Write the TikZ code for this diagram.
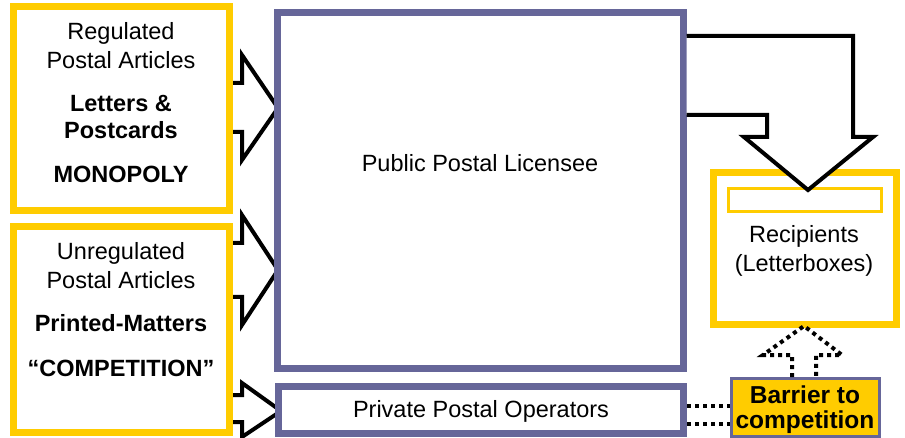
\documentclass[tikz,border=0pt]{standalone}
\usepackage{fontspec}
\setmainfont{Liberation Sans}
\definecolor{gold}{HTML}{FFCC00}
\definecolor{slate}{HTML}{666699}
\begin{document}
\begin{tikzpicture}[x=1pt,y=-1pt,
  goldbox/.style={draw=gold,line width=7pt,fill=white,minimum width=#1},
  slatebox/.style={draw=slate,line width=7pt,fill=white},
  txt/.style={font=\fontsize{23.5}{27}\selectfont,inner sep=0pt},
  btxt/.style={font=\fontsize{23.5}{27}\selectfont\bfseries,inner sep=0pt},
  bartxt/.style={font=\fontsize{24.5}{27}\selectfont\bfseries,inner sep=0pt},
  blockarrow/.style={draw=black,line width=4pt,fill=white,line join=miter,miter limit=10},
  dotline/.style={draw=black,line width=4pt,dash pattern=on 4pt off 4pt}]
\useasboundingbox (0,0) rectangle (905,438);

% block arrows into the licensee and the operators
\path[blockarrow] (229,83) -- (242,83) -- (242,55) -- (278,108) -- (242,160) -- (242,132) -- (229,132);
\path[blockarrow] (229,243) -- (242,243) -- (242,215) -- (278,270) -- (242,325) -- (242,297) -- (229,297);
\path[blockarrow] (229,395) -- (242,395) -- (242,383) -- (281,411) -- (242,437) -- (242,422) -- (229,422);

% sources
\node[goldbox=216.5pt,minimum height=204.5pt] (reg) at (121.25,108.75) {};
\node[goldbox=216.5pt,minimum height=205pt] (unreg) at (121.25,329.5) {};

% carriers
\node[slatebox,minimum width=406pt,minimum height=355pt] (ppl) at (480,190.5) {};
\node[slatebox,minimum width=405pt,minimum height=47pt] (priv) at (481,410) {};

% recipients with letterbox slot
\node[goldbox=183pt,minimum height=152pt] (rec) at (804.5,249) {};
\node[draw=gold,line width=3pt,minimum width=153pt,minimum height=23pt] (slot) at (805,200) {};

% delivery arrow from licensee into letterboxes
\path[blockarrow] (ppl.east |- 0,36) -- (853,36) -- (853,137) -- (873,137) -- (808,190)
  -- (744,137) -- (767,137) -- (767,115) -- (ppl.east |- 0,115);

% barrier
\node[draw=slate,line width=3pt,fill=gold,minimum width=148pt,minimum height=58pt] (bar) at (805,407) {};
\node[bartxt] at (805,395) {Barrier to};
\node[bartxt] at (805,422) {competition};

% dotted links
\draw[dotline] (priv.east |- 0,406) -- (bar.west |- 0,406);
\draw[dotline] (priv.east |- 0,424) -- (bar.west |- 0,424);
\draw[dotline] (792,377) -- (792,355) -- (763,355) -- (804,326) -- (842,355) -- (816,355) -- (816,377);

% labels
\node[txt] at (121,33) {Regulated};
\node[txt] at (121,60) {Postal Articles};
\node[btxt] at (121,103) {Letters \&};
\node[btxt] at (121,130) {Postcards};
\node[btxt] at (121,174) {MONOPOLY};

\node[txt] at (121,253) {Unregulated};
\node[txt] at (121,280) {Postal Articles};
\node[btxt] at (121,323) {Printed-Matters};
\node[btxt] at (121,368) {“COMPETITION”};

\node[txt] at (480,163) {Public Postal Licensee};
\node[txt] at (481,411) {Private Postal Operators};
\node[txt] at (804,236) {Recipients};
\node[txt] at (804,265) {(Letterboxes)};
\end{tikzpicture}
\end{document}
